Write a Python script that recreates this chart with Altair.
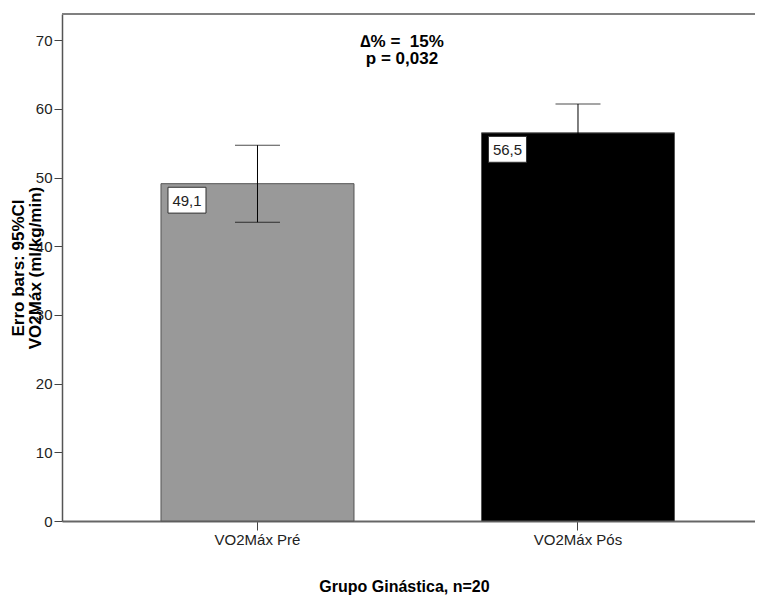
import altair as alt
import pandas as pd

categories = ["VO2Máx Pré", "VO2Máx Pós"]
means = [49.1, 56.5]
ci_low = [43.5, 52.3]
ci_high = [54.7, 60.7]
bar_labels = ["49,1", "56,5"]
bar_colors = ["#999999", "#000000"]
annot_lines = ["∆% =\u00a0\u00a015%", "p = 0,032"]

FONT = "Liberation Sans"
W, H = 693, 507

df = pd.DataFrame({
    "cat": categories,
    "mean": means,
    "lo": ci_low,
    "hi": ci_high,
    "lab": bar_labels,
})

xscale = alt.Scale(domain=categories, paddingInner=0.3978, paddingOuter=0.28, align=0.5515)
yscale = alt.Scale(domain=[0, 73.8], nice=False, zero=True)

x_axis = alt.Axis(
    title="Grupo Ginástica, n=20",
    labelAngle=0, labelFontSize=15, labelColor="#222", labelFont=FONT, labelPadding=2,
    tickSize=9, tickColor="#444", domainColor="#666", domainWidth=2,
    titleFont=FONT, titleFontSize=16, titleFontWeight="bold", titleColor="#000",
    titleX=342, titleY=70, titleBaseline="alphabetic", titleAnchor="middle",
)
y_axis = alt.Axis(
    title=["Erro bars: 95%CI", "VO2Máx (ml/kg/min)"],
    values=[0, 10, 20, 30, 40, 50, 60, 70],
    labelFontSize=15, labelColor="#222", labelFont=FONT, labelPadding=2,
    tickSize=8, tickColor="#444", domainColor="#555", domainWidth=1.5,
    titleFont=FONT, titleFontSize=17, titleFontWeight="bold", titleColor="#000",
    titleLineHeight=17, titleX=-44, titleY=253.5, titleBaseline="middle",
    titleAngle=270, titleAlign="center",
)

base = alt.Chart(df)

bars = base.mark_bar(stroke="#555", strokeWidth=1).encode(
    x=alt.X("cat:N", scale=xscale, axis=x_axis, sort=categories),
    y=alt.Y("mean:Q", scale=yscale, axis=y_axis),
    color=alt.Color("cat:N", scale=alt.Scale(domain=categories, range=bar_colors), legend=None),
)

err = base.mark_rule(color="#000", strokeWidth=1).encode(
    x=alt.X("cat:N", scale=xscale, sort=categories),
    y=alt.Y("lo:Q", scale=yscale),
    y2="hi:Q",
)
cap_hi = base.mark_tick(color="#000", size=45, thickness=1).encode(
    x=alt.X("cat:N", scale=xscale, sort=categories),
    y=alt.Y("hi:Q", scale=yscale),
)
cap_lo = base.mark_tick(color="#000", size=45, thickness=1).encode(
    x=alt.X("cat:N", scale=xscale, sort=categories),
    y=alt.Y("lo:Q", scale=yscale),
)

box_path = "M-1,-0.68L1,-0.68L1,0.68L-1,0.68Z"
label_box = base.mark_point(
    shape=box_path, size=1444, filled=True, fill="white", stroke="#333",
    strokeWidth=1, opacity=1, xOffset=26, yOffset=16.5,
).encode(
    x=alt.X("cat:N", scale=xscale, sort=categories, bandPosition=0),
    y=alt.Y("mean:Q", scale=yscale),
)
label_text = base.mark_text(
    font=FONT, fontSize=15, color="#222", dx=26, dy=17, align="center", baseline="middle",
).encode(
    x=alt.X("cat:N", scale=xscale, sort=categories, bandPosition=0),
    y=alt.Y("mean:Q", scale=yscale),
    text="lab:N",
)

top_line = alt.Chart(pd.DataFrame({"a": [0]})).mark_rule(color="#808080", strokeWidth=2).encode(
    x=alt.value(0), x2=alt.value(W), y=alt.value(0)
)

annot = alt.Chart(pd.DataFrame({"t": ["\n".join(annot_lines)]})).mark_text(
    font=FONT, fontSize=17, fontWeight="bold", color="#000", align="center",
    baseline="middle", lineBreak="\n", lineHeight=17,
).encode(
    x=alt.value(340),
    y=alt.value(27.5),
    text="t:N",
)

chart = alt.layer(
    bars, err, cap_hi, cap_lo, label_box, label_text, top_line, annot
).properties(
    width=W, height=H,
    autosize=alt.AutoSizeParams(type="none"),
    padding={"left": 54, "top": 6, "right": 0, "bottom": 76},
).configure_view(stroke=None).configure_axis(grid=False)

chart.save("out.html", embed_options={"renderer": "svg", "actions": False})
